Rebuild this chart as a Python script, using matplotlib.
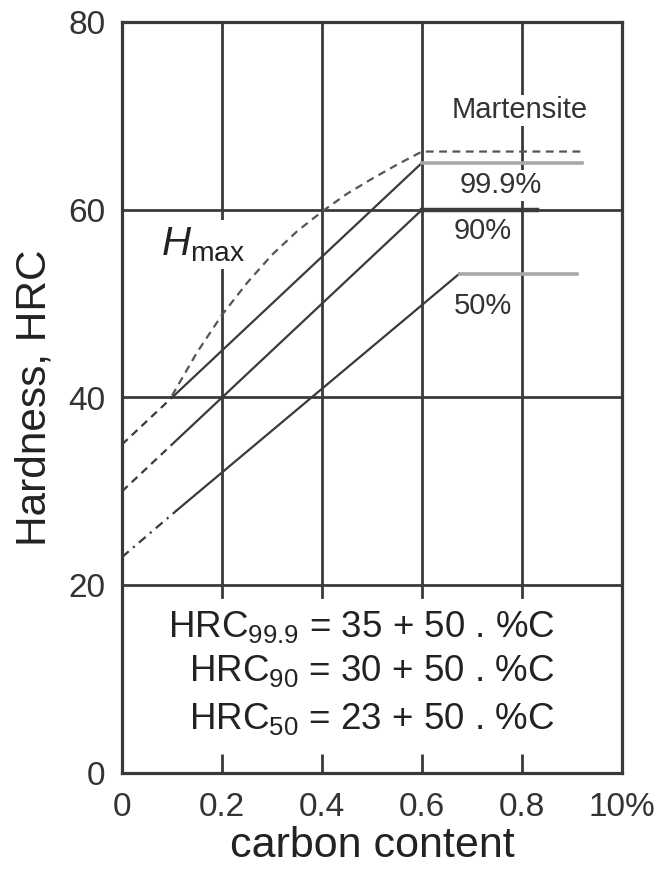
import numpy as np
import matplotlib
matplotlib.use("Agg")
import matplotlib.pyplot as plt

plt.rcParams['font.family'] = ['Liberation Sans', 'DejaVu Sans']
plt.rcParams['mathtext.fontset'] = 'custom'
plt.rcParams['mathtext.rm'] = 'Liberation Sans'
plt.rcParams['mathtext.it'] = 'Liberation Sans:italic'

# --- data ---
x_ticks = [0, 0.2, 0.4, 0.6, 0.8, 1.0]
x_tick_labels = ['0', '0.2', '0.4', '0.6', '0.8', '10%']
y_ticks = [0, 20, 40, 60, 80]

# 99.9 % martensite line (dashed extrapolation, solid part, plateau)
c999_dash_x = [0, 0.1]
c999_dash_y = [35, 40]
c999_x = [0.1, 0.6]
c999_y = [40, 65]
c999_flat_x = [0.6, 0.92]
c999_flat_y = [65, 65]

# 90 % martensite
c90_dash_x = [0, 0.11]
c90_dash_y = [30, 35.5]
c90_x = [0.11, 0.6]
c90_y = [35.5, 60]
c90_flat_x = [0.6, 0.83]
c90_flat_y = [60, 60]

# 50 % martensite
c50_dash_x = [0, 0.11]
c50_dash_y = [23, 28]
c50_x = [0.11, 0.675]
c50_y = [28, 53.2]
c50_flat_x = [0.675, 0.91]
c50_flat_y = [53.2, 53.2]

# H max curve
hmax_x = [0.1, 0.15, 0.2, 0.25, 0.3, 0.35, 0.4, 0.45, 0.5, 0.55, 0.6, 0.92]
hmax_y = [40.2, 44.8, 48.8, 52.2, 55.2, 57.7, 59.8, 61.7, 63.3, 64.8, 66.2, 66.2]

eq_labels = [r'HRC$_{99.9}$ = 35 + 50 . %C',
             r'HRC$_{90}$ = 30 + 50 . %C',
             r'HRC$_{50}$ = 23 + 50 . %C']
eq_y = [15.6, 10.9, 5.7]

dark = '#3a3a3a'
light = '#a8a8a8'

fig = plt.figure(figsize=(6.64, 8.71), dpi=100)
ax = fig.add_axes([122/664, 1 - 773/871, 500/664, 751/871])
ax.set_xlim(0, 1)
ax.set_ylim(0, 80)

for s in ax.spines.values():
    s.set_color(dark)
    s.set_linewidth(2.3)

# grid lines
for yv in [20, 40, 60]:
    ax.plot([0, 1], [yv, yv], color=dark, lw=2.0, zorder=1)
for xv in [0.2, 0.4, 0.6, 0.8]:
    ax.plot([xv, xv], [18.8, 80], color=dark, lw=2.0, zorder=1)

ax.set_xticks(x_ticks)
ax.set_xticklabels(x_tick_labels)
ax.set_yticks(y_ticks)
ax.tick_params(axis='x', direction='in', length=14, width=2.0, color=dark,
               labelsize=24, pad=14, labelcolor='#333333')
ax.tick_params(axis='y', length=0, labelsize=24, pad=12, labelcolor='#333333')
ax.set_xlabel('carbon content', fontsize=31, color='#222222', labelpad=2)
ax.set_ylabel('Hardness, HRC', fontsize=30.5, color='#222222', labelpad=10)

dash = (0, (3.5, 2.5))
ax.plot(c999_dash_x, c999_dash_y, color=dark, lw=1.6, ls=dash, zorder=3)
ax.plot(c999_x, c999_y, color=dark, lw=1.6, zorder=3)
ax.plot(c999_flat_x, c999_flat_y, color=light, lw=2.6, zorder=3)

ax.plot(c90_dash_x, c90_dash_y, color=dark, lw=1.6, ls=dash, zorder=3)
ax.plot(c90_x, c90_y, color=dark, lw=1.6, zorder=3)
ax.plot(c90_flat_x, c90_flat_y, color=dark, lw=3.2, zorder=3)

ax.plot(c50_dash_x, c50_dash_y, color=dark, lw=1.6, ls=(0, (4, 2.5, 1, 2.5)), zorder=3)
ax.plot(c50_x, c50_y, color=dark, lw=1.6, zorder=3)
ax.plot(c50_flat_x, c50_flat_y, color=light, lw=2.6, zorder=3)

ax.plot(hmax_x, hmax_y, color='#555555', lw=1.6, ls=dash, zorder=3)

box = dict(facecolor='white', edgecolor='none', pad=1)
ax.text(0.795, 70.6, 'Martensite', fontsize=21, ha='center', va='center',
        color='#333333', bbox=box, zorder=4)
ax.text(0.757, 62.6, '99.9%', fontsize=21, ha='center', va='center',
        color='#333333', bbox=box, zorder=4)
ax.text(0.722, 57.7, '90%', fontsize=21, ha='center', va='center',
        color='#333333', zorder=4)
ax.text(0.722, 49.7, '50%', fontsize=21, ha='center', va='center',
        color='#333333', zorder=4)
ax.text(0.163, 56.3, r'$H_{\mathrm{max}}$', fontsize=29, ha='center', va='center',
        color='#222222', bbox=dict(facecolor='white', edgecolor='none', pad=4), zorder=4)

for lab, yv in zip(eq_labels, eq_y):
    ax.text(0.866, yv, lab, fontsize=26.5, ha='right', va='center', color='#222222', zorder=4)

fig.savefig('out.png', dpi=100)
